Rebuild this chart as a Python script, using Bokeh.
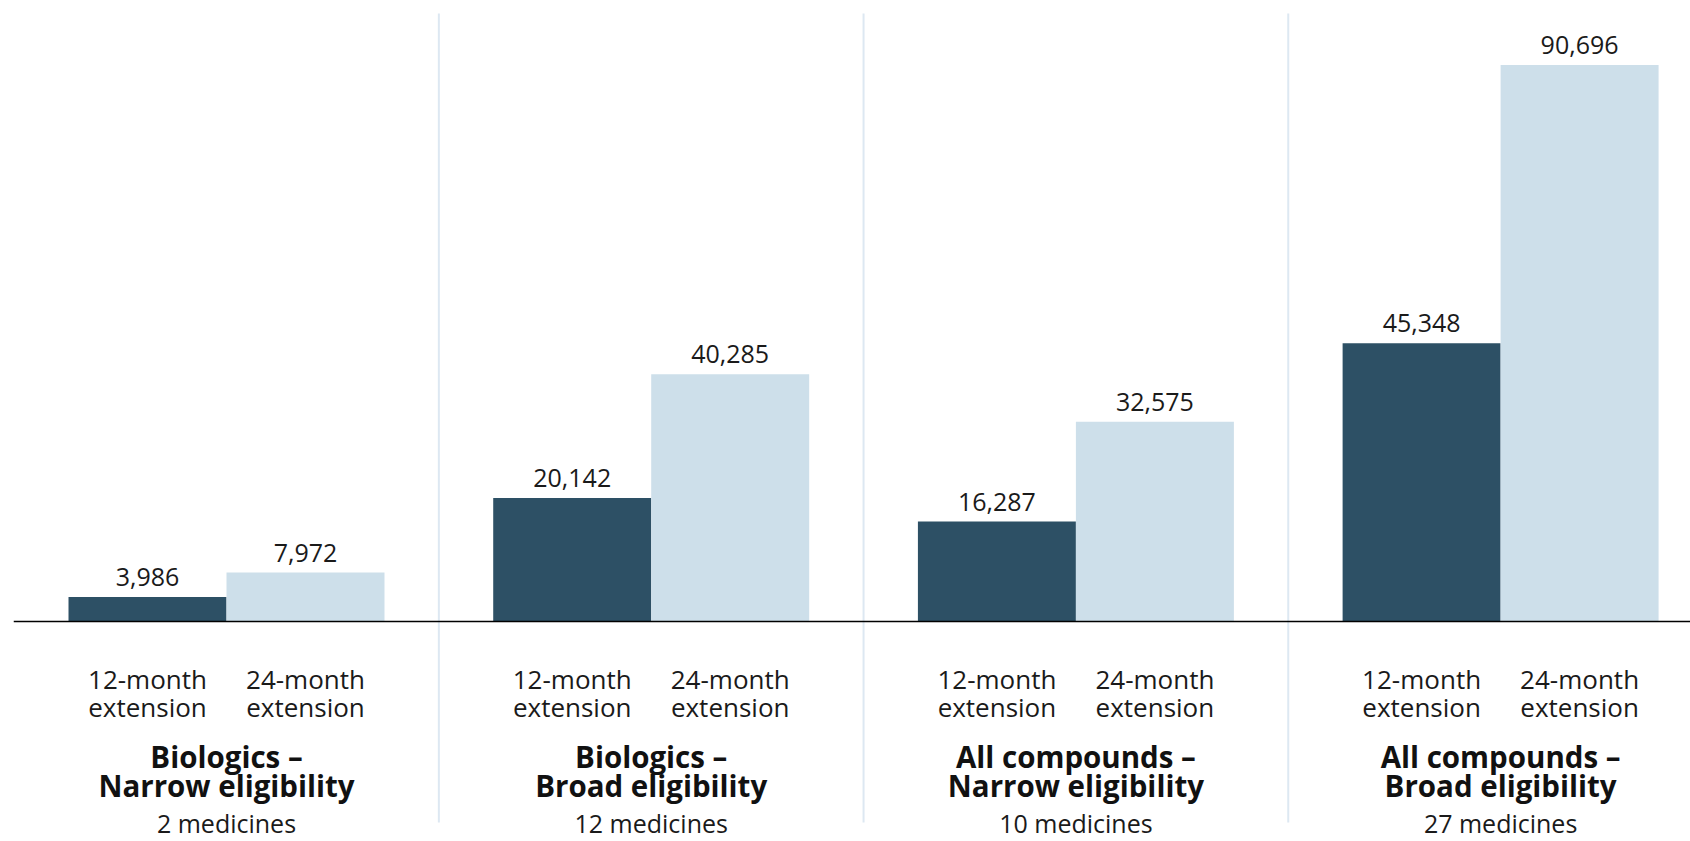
from bokeh.plotting import figure
from bokeh.models import ColumnDataSource, Range1d, Span
from bokeh.core.properties import value
from bokeh.embed import file_html
from bokeh.resources import INLINE

# ---- data -------------------------------------------------------------
group_line1 = ["Biologics –", "Biologics –", "All compounds –", "All compounds –"]
group_line2 = ["Narrow eligibility", "Broad eligibility", "Narrow eligibility", "Broad eligibility"]
medicines = ["2 medicines", "12 medicines", "10 medicines", "27 medicines"]

series_line1 = ["12-month", "24-month"]
series_line2 = ["extension", "extension"]

ext_12 = [3986, 20142, 16287, 45348]
ext_24 = [7972, 40285, 32575, 90696]

# ---- layout / style ---------------------------------------------------
W, H = 1690, 841
LEFT = 13
GROUP_PX = 424.7          # pixels between group centres
FIRST_CENTER_PX = 226     # pixel of first group centre
BASELINE_PX = 621         # pixel row of the zero line
PX_PER_UNIT = 0.006135
BAR_W = 0.372             # bar width in group units

DARK = "#2d5065"
LIGHT = "#cddfea"
DIVIDER = "#dde8f2"
TEXT = "#1a1a1a"
FONT = value("Open Sans")

x_start = -(FIRST_CENTER_PX - LEFT) / GROUP_PX
x_end = (W - FIRST_CENTER_PX) / GROUP_PX
y_end = BASELINE_PX / PX_PER_UNIT
y_start = -(H - BASELINE_PX) / PX_PER_UNIT

p = figure(width=W, height=H, output_backend="svg", toolbar_location=None,
           x_range=Range1d(x_start, x_end), y_range=Range1d(y_start, y_end),
           min_border_left=LEFT, min_border_right=0, min_border_top=0,
           min_border_bottom=0)
p.axis.visible = False
p.grid.visible = False
p.outline_line_color = None
p.background_fill_color = "white"
p.border_fill_color = "white"

n = len(ext_12)
centers = list(range(n))
x12 = [c - BAR_W / 2 for c in centers]
x24 = [c + BAR_W / 2 for c in centers]

# group dividers between neighbouring panels
div_x = [c + 0.5 for c in centers[:-1]]
div_top = (BASELINE_PX - 13) / PX_PER_UNIT
div_bot = -(822 - BASELINE_PX) / PX_PER_UNIT
p.segment(x0=div_x, x1=div_x, y0=[div_bot] * len(div_x), y1=[div_top] * len(div_x),
          line_color=DIVIDER, line_width=2)

bars12 = ColumnDataSource(dict(x=x12, top=ext_12, label=[f"{v:,}" for v in ext_12]))
bars24 = ColumnDataSource(dict(x=x24, top=ext_24, label=[f"{v:,}" for v in ext_24]))

p.vbar(x="x", top="top", bottom=0, width=BAR_W, source=bars12,
       fill_color=DARK, line_color=None)
p.vbar(x="x", top="top", bottom=0, width=BAR_W, source=bars24,
       fill_color=LIGHT, line_color=None)

p.add_layout(Span(location=0, dimension="width", line_color="black", line_width=1.5))

# value labels above bars
for src in (bars12, bars24):
    p.text(x="x", y="top", text="label", source=src, y_offset=-20,
           text_align="center", text_baseline="alphabetic",
           text_font=FONT, text_font_size="25px", text_color=TEXT)

# series labels under each bar
zeros = [0] * n
for xs, l1, l2 in ((x12, series_line1[0], series_line2[0]),
                   (x24, series_line1[1], series_line2[1])):
    p.text(x=xs, y=zeros, text=[l1] * n, y_offset=57,
           text_align="center", text_baseline="alphabetic",
           text_font=FONT, text_font_size="26px", text_color=TEXT)
    p.text(x=xs, y=zeros, text=[l2] * n, y_offset=85,
           text_align="center", text_baseline="alphabetic",
           text_font=FONT, text_font_size="26px", text_color=TEXT)

# group titles and medicine counts
p.text(x=centers, y=zeros, text=group_line1, y_offset=135,
       text_align="center", text_baseline="alphabetic", text_font=FONT,
       text_font_size="29.5px", text_font_style="bold", text_color="#111111")
p.text(x=centers, y=zeros, text=group_line2, y_offset=164,
       text_align="center", text_baseline="alphabetic", text_font=FONT,
       text_font_size="29.5px", text_font_style="bold", text_color="#111111")
p.text(x=centers, y=zeros, text=medicines, y_offset=201,
       text_align="center", text_baseline="alphabetic", text_font=FONT,
       text_font_size="25px", text_color=TEXT)

open("out.html", "w").write(file_html(p, INLINE))
